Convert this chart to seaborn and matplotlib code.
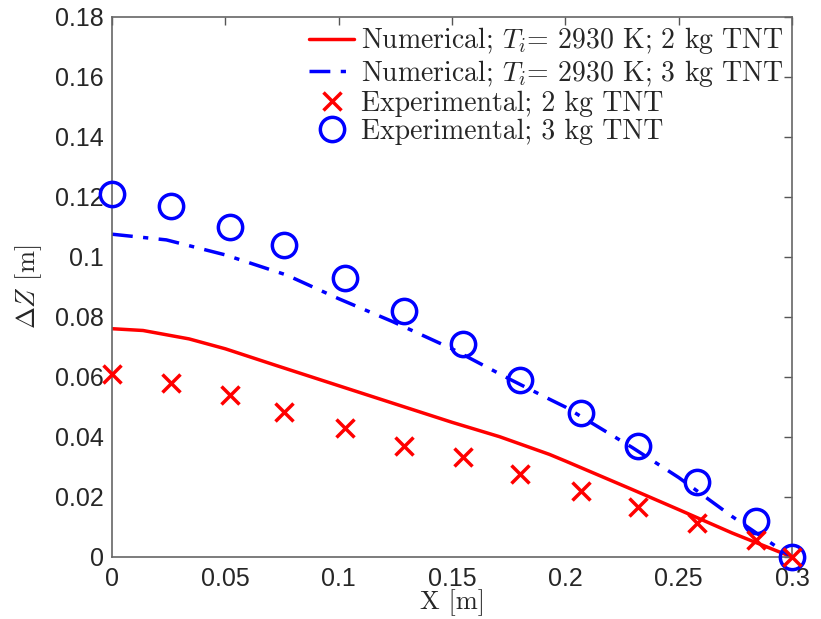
import matplotlib
matplotlib.use("Agg")
import matplotlib.pyplot as plt
import seaborn as sns
import numpy as np
import pandas as pd

# Numerical curves
x_num_2kg = [0, 0.0137, 0.034, 0.05, 0.0726, 0.1, 0.15, 0.171, 0.193, 0.2, 0.2295, 0.25, 0.2736, 0.3]
y_num_2kg = [0.0761, 0.0755, 0.0727, 0.0694, 0.0638, 0.0571, 0.0449, 0.0401, 0.0342, 0.0320, 0.0225, 0.0158, 0.0080, 0.0]

x_num_3kg = [0, 0.024, 0.05, 0.077, 0.1, 0.124, 0.15, 0.1754, 0.193, 0.2, 0.2295, 0.25, 0.2736, 0.293, 0.3]
y_num_3kg = [0.1076, 0.1057, 0.1007, 0.0940, 0.0861, 0.0784, 0.0694, 0.0593, 0.0526, 0.0500, 0.0365, 0.0265, 0.0135, 0.0035, 0.0]

# Experimental points
x_exp = [0, 0.026, 0.052, 0.076, 0.103, 0.129, 0.155, 0.18, 0.207, 0.232, 0.258, 0.284, 0.3]
y_exp_2kg = [0.061, 0.058, 0.054, 0.0483, 0.0429, 0.0369, 0.0335, 0.0278, 0.0221, 0.0168, 0.0114, 0.0057, 0.0]
y_exp_3kg = [0.121, 0.117, 0.110, 0.104, 0.093, 0.082, 0.071, 0.059, 0.048, 0.037, 0.025, 0.012, 0.0]

x_ticks = [0, 0.05, 0.1, 0.15, 0.2, 0.25, 0.3]
x_tick_labels = ["0", "0.05", "0.1", "0.15", "0.2", "0.25", "0.3"]
y_ticks = [0, 0.02, 0.04, 0.06, 0.08, 0.1, 0.12, 0.14, 0.16, 0.18]
y_tick_labels = ["0", "0.02", "0.04", "0.06", "0.08", "0.1", "0.12", "0.14", "0.16", "0.18"]

labels = [
    "Numerical; $T_i$= 2930 K; 2 kg TNT",
    "Numerical; $T_i$= 2930 K; 3 kg TNT",
    "Experimental; 2 kg TNT",
    "Experimental; 3 kg TNT",
]

sns.set_style("white")
plt.rcParams["mathtext.fontset"] = "cm"
plt.rcParams["font.family"] = ["Liberation Sans", "DejaVu Sans"]

fig = plt.figure(figsize=(8.21, 6.19), dpi=100)
ax = fig.add_axes([112 / 821, 1 - 557 / 619, (792 - 112) / 821, (557 - 17) / 619])

red = "#ff0000"
blue = "#0000ff"

df2 = pd.DataFrame({"x": x_num_2kg, "y": y_num_2kg})
df3 = pd.DataFrame({"x": x_num_3kg, "y": y_num_3kg})
de2 = pd.DataFrame({"x": x_exp, "y": y_exp_2kg})
de3 = pd.DataFrame({"x": x_exp, "y": y_exp_3kg})

sns.lineplot(data=df2, x="x", y="y", ax=ax, color=red, lw=2.5, sort=False,
             estimator=None, label=labels[0])
sns.lineplot(data=df3, x="x", y="y", ax=ax, color=blue, lw=2.5, sort=False,
             estimator=None, label=labels[1], linestyle=(0, (6, 3, 1.5, 3)))
sns.lineplot(data=de2, x="x", y="y", ax=ax, color=red, linestyle="none", marker="x",
             markersize=13, markeredgewidth=2.5, markeredgecolor=red,
             sort=False, estimator=None, label=labels[2], clip_on=False, zorder=5)
sns.lineplot(data=de3, x="x", y="y", ax=ax, color=blue, linestyle="none", marker="o",
             markersize=17.5, markerfacecolor="none", markeredgecolor=blue,
             markeredgewidth=2.5, sort=False, estimator=None, label=labels[3],
             clip_on=False, zorder=4)

ax.set_xlim(0, 0.3)
ax.set_ylim(0, 0.18)
ax.set_xticks(x_ticks)
ax.set_xticklabels(x_tick_labels)
ax.set_yticks(y_ticks)
ax.set_yticklabels(y_tick_labels)
ax.tick_params(direction="in", length=6, width=1, color="#555555",
               top=True, right=True, labelsize=18, pad=6)
ax.tick_params(axis="x", pad=7)
for s in ax.spines.values():
    s.set_color("#666666")
    s.set_linewidth(1.2)

ax.set_xlabel("X [m]", fontsize=19, labelpad=-1, family="cmr10")
ax.set_ylabel(r"$\Delta Z$ [m]", fontsize=19, labelpad=8, family="cmr10")

leg = ax.legend(loc="upper right", frameon=False, numpoints=1,
                prop={"family": "cmr10", "size": 20},
                handlelength=1.6, handletextpad=0.25, labelspacing=0.06,
                borderaxespad=0.15, borderpad=0.15)

fig.savefig("out.png", dpi=100)
